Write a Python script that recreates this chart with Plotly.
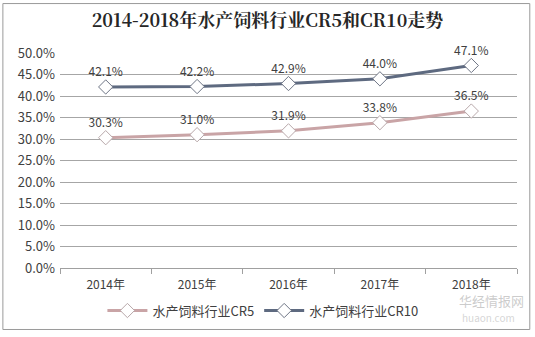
import plotly.graph_objects as go

years = ["2014年", "2015年", "2016年", "2017年", "2018年"]
cr5 = [30.3, 31.0, 31.9, 33.8, 36.5]
cr10 = [42.1, 42.2, 42.9, 44.0, 47.1]
cr5_labels = ["30.3%", "31.0%", "31.9%", "33.8%", "36.5%"]
cr10_labels = ["42.1%", "42.2%", "42.9%", "44.0%", "47.1%"]
y_ticks = [0, 5, 10, 15, 20, 25, 30, 35, 40, 45, 50]

font = "Noto Sans CJK SC, Noto Sans, sans-serif"

fig = go.Figure()
fig.add_trace(go.Scatter(
    x=years, y=cr5, mode="lines+markers+text", name="水产饲料行业CR5",
    line=dict(color="#C9A4A6", width=3),
    marker=dict(symbol="diamond", size=11, color="white", line=dict(color="#B8A8AA", width=1)),
    text=cr5_labels, textposition="top center", textfont=dict(size=12, color="#404040"),
    cliponaxis=False,
))
fig.add_trace(go.Scatter(
    x=years, y=cr10, mode="lines+markers+text", name="水产饲料行业CR10",
    line=dict(color="#5E6A80", width=3),
    marker=dict(symbol="diamond", size=11, color="white", line=dict(color="#6E7585", width=1)),
    text=cr10_labels, textposition="top center", textfont=dict(size=12, color="#404040"),
    cliponaxis=False,
))

fig.update_layout(
    width=535, height=337,
    margin=dict(l=60, r=18, t=53, b=67),
    paper_bgcolor="white", plot_bgcolor="white",
    font=dict(family=font, size=12, color="#404040"),
    title=dict(text="<b>2014-2018年水产饲料行业CR5和CR10走势</b>", x=0.5, xanchor="center",
               y=0.94, yanchor="middle",
               font=dict(family="Noto Serif CJK SC, Noto Sans CJK SC, serif", size=18, color="#262626")),
    showlegend=True,
    legend=dict(orientation="h", x=0.444, xanchor="center", y=-0.198, yanchor="middle",
                font=dict(size=13, color="#404040"), itemwidth=40),
    xaxis=dict(range=[-0.5, 4.5], showgrid=False, showline=True, linecolor="#A0A0A0", linewidth=1,
               ticks="outside", tickson="boundaries", ticklen=5, tickcolor="#A0A0A0",
               ticklabelstandoff=6,
               tickfont=dict(size=12, color="#404040")),
    yaxis=dict(range=[0, 50], tickvals=y_ticks, ticktext=[f"{v:.1f}%" for v in y_ticks],
               showgrid=True, gridcolor="#A6A6A6", gridwidth=1, zeroline=False,
               showline=False, ticks="", ticklabelstandoff=4,
               tickfont=dict(size=13, color="#404040")),
    shapes=[dict(type="rect", xref="paper", yref="paper",
                 x0=-0.125, x1=1.028, y0=-0.286, y1=1.23,
                 line=dict(color="#9A9A9A", width=1), fillcolor="rgba(0,0,0,0)", layer="below")],
    annotations=[
        dict(text="华经情报网", x=1.02, y=-0.152, xref="paper", yref="paper", showarrow=False,
             xanchor="right", yanchor="middle", font=dict(size=13, color="rgba(170,170,170,0.6)")),
        dict(text="huaon.com", x=1.0, y=-0.228, xref="paper", yref="paper", showarrow=False,
             xanchor="right", yanchor="middle", font=dict(size=10, color="rgba(185,185,185,0.6)")),
    ],
)
fig.update_yaxes(automargin=False)
fig.update_xaxes(automargin=False)
fig.write_html("out.html")
